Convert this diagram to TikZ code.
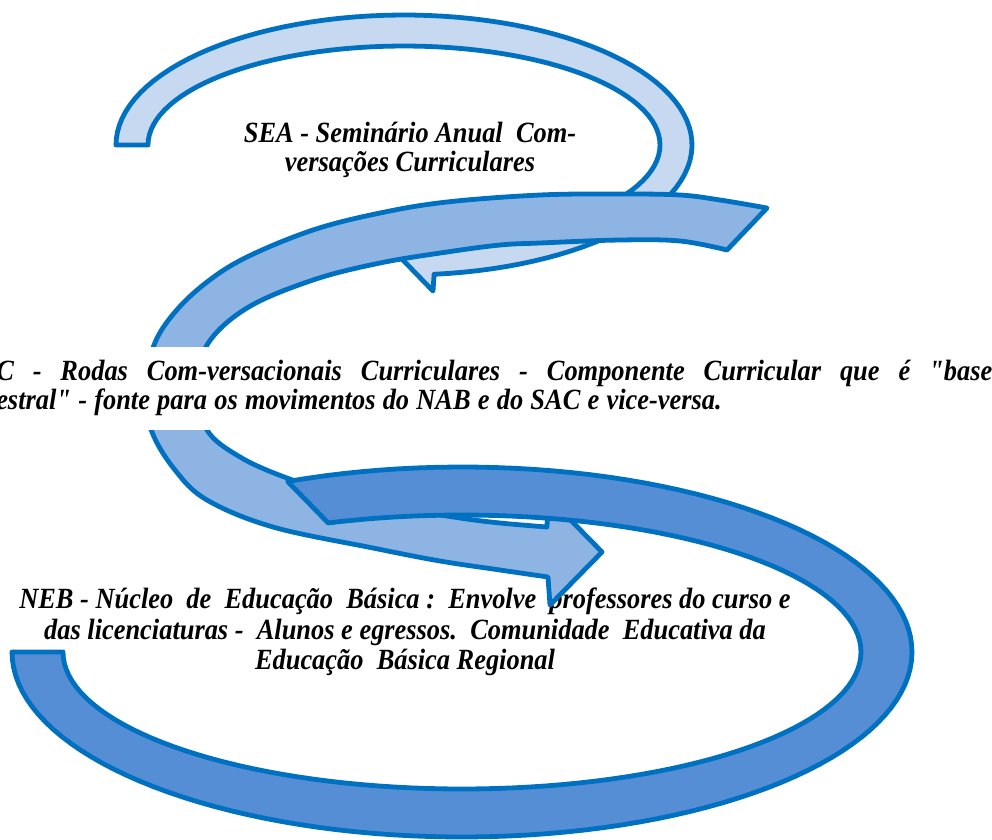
\documentclass[tikz,border=0pt]{standalone}
\usepackage{fontspec}
\setmainfont{Liberation Serif}[Ligatures=TeXOff,FakeStretch=0.9]
\definecolor{LineBlue}{HTML}{0070C0}
\definecolor{PaleBlue}{HTML}{C6D9F1}
\definecolor{MidBlue}{HTML}{8EB4E3}
\definecolor{DeepBlue}{HTML}{558ED5}

\begin{document}
\begin{tikzpicture}[x=0.75pt,y=-0.75pt,
        BandCfg/.style={
            draw=LineBlue,
            line width=3.6pt,
            line join=round
        },
        LabelCfg/.style={
            font=\fontsize{22}{21.75}\selectfont\bfseries\itshape,
            align=center,
            inner sep=0pt
        }
    ]

    \clip (0,0) rectangle (992,839);

    %SEA arrow
    \draw[BandCfg,fill=PaleBlue] plot[domain=180:-84,samples=90,variable=\t]({404+288*cos(\t)},{145-130*sin(\t)})
        --(433,291)coordinate (SEAbarbA)--(399,256)coordinate (SEAtip)--(435,224)coordinate (SEAbarbB)
        --plot[domain=-83:180,samples=90,variable=\t]({404+256*cos(\t)},{145-99*sin(\t)})--cycle;

    %NEB text, lies under the RAC arrow head
    \node[LabelCfg,font=\fontsize{22}{23}\selectfont\bfseries\itshape] (NEB) at (405,632) {NEB - Núcleo\ \ de\ \ Educação\ \ Básica :\ \ Envolve\ \ professores do curso e\\das licenciaturas -\ \ Alunos e egressos.\ \ Comunidade\ \ Educativa da\\Educação\ \ Básica Regional};

    %RAC arrow
    \draw[BandCfg,fill=MidBlue] plot[smooth,tension=0.6] coordinates{(767,208)(720,200)(680,195)(620,194)(540,195)(447,202)(380,213)(313,230)(247,257)(207,282)(175,312)(154,345)(144,390)(152,432)(175,470)(207,500)(273,527)(373,548)(440,561)(500,570)(548,577)}
        --(550,605)coordinate (RACbarbA)--(602,552)coordinate (RACtip)--(548,497)coordinate (RACbarbB)
        --plot[smooth,tension=0.6] coordinates{(547,527)(500,523)(460,518)(400,508)(340,494)(287,478)(240,457)(207,430)(198,388)(207,345)(247,308)(313,280)(380,263)(447,252)(500,245)(540,243)(620,240)(680,241)(727,250)}--cycle;

    %RAC text
    \node[LabelCfg,fill=white,anchor=west,align=left,text width=750pt,minimum height=62.25pt] (RAC) at (-4,388) {\makebox[747pt][s]{\spaceskip=.25em plus 1em C - Rodas Com-versacionais Curriculares - Componente Curricular que é "base}\\\makebox[544pt][s]{\spaceskip=.25em plus .1em minus .1em estral" - fonte para os movimentos do NAB e do SAC e vice-versa.}};

    %NEB arrow
    \draw[BandCfg,fill=DeepBlue] plot[domain=180:472.8,samples=120,variable=\t]({462+450*cos(\t)},{652-185*sin(\t)})
        --plot[domain=469.6:180,samples=120,variable=\t]({462+399*cos(\t)},{652-137*sin(\t)})--cycle;

    %SEA text
    \node[LabelCfg] (SEA) at (410,150) {SEA - Seminário Anual\ \ Com-\\versações Curriculares};

\end{tikzpicture}
\end{document}
